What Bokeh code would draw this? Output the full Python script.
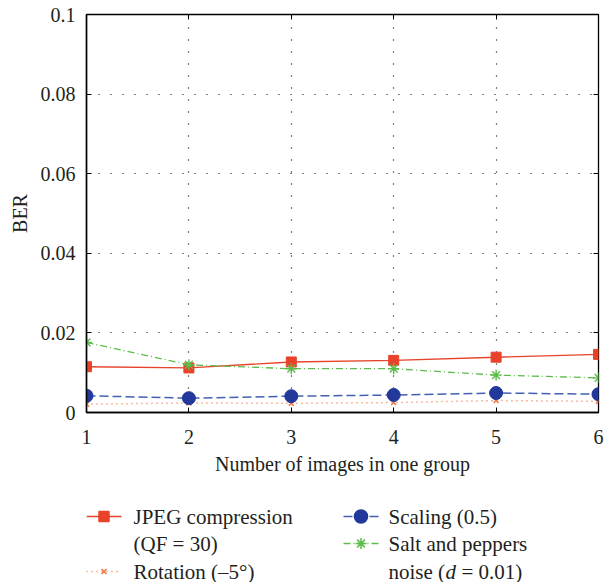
from bokeh.plotting import figure
from bokeh.models import Range1d, FixedTicker, CustomJSTickFormatter, LinearAxis
from bokeh.layouts import column
from bokeh.core.properties import value
from bokeh.embed import file_html
from bokeh.resources import INLINE

# ---- data ----
group_sizes = [1, 2, 3, 4, 5, 6]
jpeg = [0.0115, 0.0112, 0.0127, 0.0131, 0.0139, 0.0146]
rotation = [0.0021, 0.0024, 0.0023, 0.0025, 0.0030, 0.0028]
scaling = [0.0042, 0.0036, 0.0041, 0.0044, 0.0049, 0.0046]
salt_pepper = [0.0176, 0.0120, 0.0110, 0.0110, 0.0094, 0.0087]
y_ticks = [0, 0.02, 0.04, 0.06, 0.08, 0.1]
x_ticks = [1, 2, 3, 4, 5, 6]

FONT = "Liberation Serif"
FS = "20px"
LFS = "21px"
TXT = "#231F20"

RED = "#E8432A"
ORANGE = "#F07440"
BLUE = "#22389A"
BLUE_L = "#4460B0"
GREEN = "#5BBD4A"

p = figure(width=604, height=485, x_range=Range1d(1, 6), y_range=Range1d(0, 0.1),
           toolbar_location=None, output_backend="svg",
           min_border_left=86, min_border_right=6, min_border_top=14, min_border_bottom=73)
p.background_fill_color = "white"
p.border_fill_color = "white"
p.outline_line_color = "black"
p.outline_line_width = 1.3

p.xaxis.ticker = FixedTicker(ticks=x_ticks)
p.yaxis.ticker = FixedTicker(ticks=y_ticks)
p.yaxis.formatter = CustomJSTickFormatter(code="return String(+tick.toFixed(4));")
p.xaxis.axis_label = "Number of images in one group"
p.yaxis.axis_label = "BER"
for ax in (p.xaxis[0], p.yaxis[0]):
    ax.axis_line_color = "black"
    ax.axis_line_width = 1.5
    ax.major_tick_in = 5
    ax.major_tick_out = 0
    ax.minor_tick_line_color = None
    ax.major_tick_line_color = "black"
    ax.major_label_text_font = FONT
    ax.major_label_text_font_size = FS
    ax.major_label_text_color = TXT
    ax.axis_label_text_font = FONT
    ax.axis_label_text_font_size = FS
    ax.axis_label_text_font_style = "normal"
    ax.axis_label_text_color = TXT
p.xaxis.major_label_standoff = 17
p.xaxis.axis_label_standoff = 6
p.yaxis.major_label_standoff = 11
p.yaxis.axis_label_standoff = 7

# mirrored inward ticks on top and right (no labels)
for loc, tk in (("above", x_ticks), ("right", y_ticks)):
    ax = LinearAxis(ticker=FixedTicker(ticks=tk), axis_line_color=None,
                    major_tick_in=5, major_tick_out=0, minor_tick_line_color=None,
                    formatter=CustomJSTickFormatter(code="return '';"),
                    major_label_text_font_size="1px", major_label_standoff=0,
                    major_tick_line_color="black")
    p.add_layout(ax, loc)

for g in (p.xgrid[0], p.ygrid[0]):
    g.grid_line_color = "black"
    g.grid_line_dash = "1 11"
    g.grid_line_width = 1.2
p.xgrid.ticker = FixedTicker(ticks=x_ticks)
p.ygrid.ticker = FixedTicker(ticks=y_ticks)

p.line(group_sizes, jpeg, line_color=RED, line_width=1.4)
p.scatter(group_sizes, jpeg, marker="square", size=10, fill_color=RED, line_color=RED)

p.line(group_sizes, rotation, line_color=ORANGE, line_width=1.5, line_dash="1 4")
p.scatter(group_sizes, rotation, marker="x", size=7, line_color=ORANGE, line_width=1.5)

p.line(group_sizes, scaling, line_color=BLUE_L, line_width=1.5, line_dash="9 4")
p.scatter(group_sizes, scaling, marker="circle", size=13, fill_color=BLUE, line_color=BLUE)

p.line(group_sizes, salt_pepper, line_color=GREEN, line_width=1.3, line_dash="7 3 1 3")
p.scatter(group_sizes, salt_pepper, marker="asterisk", size=11, line_color=GREEN, line_width=1.4)

# ---- legend (separate strip, x in page pixels thanks to aligned frames) ----
leg = figure(width=604, height=97, x_range=Range1d(86, 598), y_range=Range1d(97, 0),
             toolbar_location=None, output_backend="svg",
             min_border_left=86, min_border_right=6, min_border_top=0, min_border_bottom=0)
leg.axis.visible = False
leg.grid.visible = False
leg.outline_line_color = None
leg.background_fill_color = "white"
leg.border_fill_color = "white"

def label(x, y, s, style="normal"):
    leg.text([x], [y], text=[s], text_baseline="middle", text_font_style=style,
             text_font=value(FONT), text_font_size=LFS, text_color=TXT)

def entry(x0, y, color, dash, marker, msize, mfill, lcolor, lines, tx_off=47):
    leg.line([x0, x0 + 35], [y, y], line_color=lcolor, line_width=1.5, line_dash=dash)
    leg.scatter([x0 + 17.5], [y], marker=marker, size=msize,
                fill_color=mfill, line_color=color, line_width=1.5)
    for i, ln in enumerate(lines):
        label(x0 + tx_off, y + i * 27, ln)

entry(86, 31, RED, "solid", "square", 10, RED, RED, ["JPEG compression", "(QF = 30)"])
entry(86, 86, ORANGE, "1 4", "x", 7, None, ORANGE, ["Rotation (–5°)"])
entry(343, 31, BLUE, "9 4", "circle", 13, BLUE, BLUE_L, ["Scaling (0.5)"], 45)
entry(343, 58, GREEN, "7 3 1 3", "asterisk", 11, None, GREEN, ["Salt and peppers"], 45)
tx = 343 + 45
label(tx, 86, "noise (")
label(tx + 57, 86, "d", "italic")
label(tx + 73, 86, "= 0.01)")

layout = column(p, leg, spacing=0)
open("out.html", "w").write(file_html(layout, INLINE))
